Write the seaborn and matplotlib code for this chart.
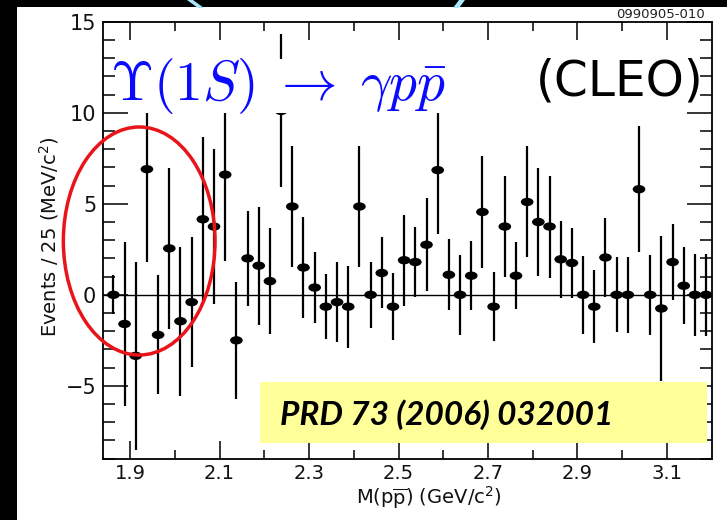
import matplotlib
matplotlib.use("Agg")
import matplotlib.pyplot as plt
import matplotlib.transforms as mtransforms
from matplotlib.patches import Rectangle, Ellipse, Polygon
from matplotlib.path import Path
from matplotlib.ticker import FixedLocator, FixedFormatter
import numpy as np
import pandas as pd
import seaborn as sns

# M(p pbar) bin centres (GeV/c^2), 25 MeV bins
mass = [1.8625, 1.8875, 1.9125, 1.9375, 1.9625, 1.9875, 2.0125, 2.0375, 2.0625,
        2.0875, 2.1125, 2.1375, 2.1625, 2.1875, 2.2125, 2.2375, 2.2625, 2.2875,
        2.3125, 2.3375, 2.3625, 2.3875, 2.4125, 2.4375, 2.4625, 2.4875, 2.5125,
        2.5375, 2.5625, 2.5875, 2.6125, 2.6375, 2.6625, 2.6875, 2.7125, 2.7375,
        2.7625, 2.7875, 2.8125, 2.8375, 2.8625, 2.8875, 2.9125, 2.9375, 2.9625,
        2.9875, 3.0125, 3.0375, 3.0625, 3.0875, 3.1125, 3.1375, 3.1625, 3.1875]

# background-subtracted events per bin
events = [0.0, -1.6, -3.35, 6.9, -2.2, 2.55, -1.45, -0.4, 4.15,
          3.75, 6.6, -2.5, 2.0, 1.6, 0.75, 10.1, 4.85, 1.5,
          0.4, -0.65, -0.4, -0.65, 4.85, 0.0, 1.2, -0.65, 1.9,
          1.8, 2.75, 6.85, 1.1, 0.0, 1.05, 4.55, -0.65, 3.75,
          1.05, 5.1, 4.0, 3.75, 1.95, 1.75, 0.0, -0.65, 2.05,
          0.0, 0.0, 5.8, 0.0, -0.75, 1.8, 0.5, 0.0, 0.0]

# symmetric statistical errors
errors = [1.07, 4.5, 5.15, 5.1, 3.27, 4.4, 4.1, 3.55, 4.5,
          4.25, 4.75, 3.2, 2.6, 3.25, 2.9, 4.2, 3.3, 2.75,
          1.95, 1.8, 2.2, 2.25, 3.3, 1.8, 1.95, 1.85, 2.5,
          1.9, 2.55, 3.5, 1.95, 2.2, 1.9, 3.1, 1.9, 2.75,
          1.85, 3.05, 2.95, 2.8, 2.1, 1.9, 2.15, 2.0, 2.15,
          2.05, 2.1, 3.45, 2.2, 4.0, 2.1, 2.1, 2.25, 2.25]

x_major = [1.9, 2.1, 2.3, 2.5, 2.7, 2.9, 3.1]
x_minor = [2.0, 2.2, 2.4, 2.6, 2.8, 3.0]
x_labels = ["1.9", "2.1", "2.3", "2.5", "2.7", "2.9", "3.1"]
y_major = [-5, 0, 5, 10, 15]
y_minor = [-9, -8, -7, -6, -4, -3, -2, -1, 1, 2, 3, 4, 6, 7, 8, 9, 11, 12, 13, 14]
y_labels = ["\u22125", "0", "5", "10", "15"]

df = pd.DataFrame({"mass": mass, "events": events, "err": errors})

sns.set_theme(style="ticks")
plt.rcParams["font.family"] = ["DejaVu Sans"]
plt.rcParams["axes.edgecolor"] = "black"
plt.rcParams["axes.linewidth"] = 1.3

W, H = 727, 520
fig = plt.figure(figsize=(W / 100, H / 100), dpi=100)

def fx(px):
    return px / W

def fy(py):
    return 1 - py / H

ax_l, ax_r, ax_t, ax_b = 103.3, 711.7, 21.7, 458.7
ax = fig.add_axes([fx(ax_l), fy(ax_b), (ax_r - ax_l) / W, (ax_b - ax_t) / H])

# data layers sit below the axis (zorder 0.5) so the inward ticks stay visible
ax.errorbar(df["mass"], df["events"], yerr=df["err"], fmt="none",
            ecolor="black", elinewidth=1.6, zorder=0.2)
ax.set_xlim(1.84, 3.2)
ax.set_ylim(-9, 15)
ax.axhline(0, color="black", lw=1.0, zorder=0.1)

ax.xaxis.set_major_locator(FixedLocator(x_major))
ax.xaxis.set_minor_locator(FixedLocator(x_minor))
ax.xaxis.set_major_formatter(FixedFormatter(x_labels))
ax.yaxis.set_major_locator(FixedLocator(y_major))
ax.yaxis.set_minor_locator(FixedLocator(y_minor))
ax.yaxis.set_major_formatter(FixedFormatter(y_labels))

# white band behind the title
blend = mtransforms.blended_transform_factory(ax.transAxes, ax.transData)
ax.add_patch(Rectangle((0, 10.0), 1, 2.95, transform=blend,
                       facecolor="white", edgecolor="none", zorder=0.4))

circ = Path.unit_circle()
ell_marker = Path(circ.vertices * np.array([1.0, 0.66]), circ.codes)
sns.scatterplot(data=df, x="mass", y="events", marker=ell_marker, s=83,
                color="black", linewidth=0, edgecolor="none", legend=False,
                ax=ax, zorder=0.3)

ax.set_xlabel(r"M(p$\overline{\mathrm{p}}$) (GeV/c$^2$)", fontsize=14,
              color="#111111", math_fontfamily="dejavusans")
ax.xaxis.set_label_coords((429 - ax_l) / (ax_r - ax_l), -0.09)
ax.xaxis.label.set_va("center")
ax.set_ylabel(r"Events / 25 (MeV/c$^2$)", fontsize=14, color="#111111",
              math_fontfamily="dejavusans")
ax.yaxis.set_label_coords((49 - ax_l) / (ax_r - ax_l), 0.507)
ax.yaxis.label.set_va("center")

# title
fig.text(fx(110), fy(100), r"$\Upsilon(1S)\;\rightarrow\;\gamma p\bar{p}$",
         fontsize=40, color="#0a0aff", math_fontfamily="cm",
         ha="left", va="baseline", zorder=5)
fig.text(fx(704), fy(96), "(CLEO)", fontsize=35, color="black",
         ha="right", va="baseline", zorder=5)

fig.text(fx(705), fy(14), "0990905-010", fontsize=9.5, color="#222222",
         ha="right", va="center")

# reference box
fig.add_artist(Rectangle((fx(260), fy(443)), (707 - 260) / W, (443 - 382) / H,
                         transform=fig.transFigure, facecolor="#ffff99",
                         edgecolor="none", zorder=6))
fig.text(fx(280), fy(425), "PRD 73 (2006) 032001", fontsize=24,
         family="Lato", weight="bold", style="italic", color="black",
         ha="left", va="baseline", zorder=7)

# highlight around the low-mass region
fig.add_artist(Ellipse((fx(139.2), fy(241)), 151.7 / W, 228 / H,
                       transform=fig.transFigure, facecolor="none",
                       edgecolor="#e8141a", lw=2.5, zorder=8))

# slide frame
fig.add_artist(Rectangle((0, 0), fx(17), 1, transform=fig.transFigure,
                         facecolor="black", edgecolor="none", zorder=9))
fig.add_artist(Rectangle((0, fy(7)), 1, 7 / H, transform=fig.transFigure,
                         facecolor="black", edgecolor="none", zorder=9))
fig.add_artist(Polygon([(fx(187), fy(0)), (fx(193), fy(0)), (fx(204), fy(8)), (fx(198), fy(8))],
                       closed=True, transform=fig.transFigure, facecolor="#a8e6f8",
                       edgecolor="none", zorder=10))
fig.add_artist(Polygon([(fx(459), fy(0)), (fx(465), fy(0)), (fx(459), fy(8)), (fx(453), fy(8))],
                       closed=True, transform=fig.transFigure, facecolor="#a8e6f8",
                       edgecolor="none", zorder=10))

# inward ticks on all four sides
ax.tick_params(axis="x", which="major", direction="in", top=True, bottom=True,
               length=13, width=1.1, color="black", pad=4, labelsize=14,
               labelcolor="#111111")
ax.tick_params(axis="x", which="minor", direction="in", top=True, bottom=True,
               length=6.5, width=1.1, color="black")
ax.tick_params(axis="y", which="major", direction="in", left=True, right=True,
               length=18, width=1.1, color="black", pad=5, labelsize=15,
               labelcolor="#111111")
ax.tick_params(axis="y", which="minor", direction="in", left=True, right=True,
               length=8.5, width=1.1, color="black")

fig.savefig("out.png", dpi=100, facecolor="white")
